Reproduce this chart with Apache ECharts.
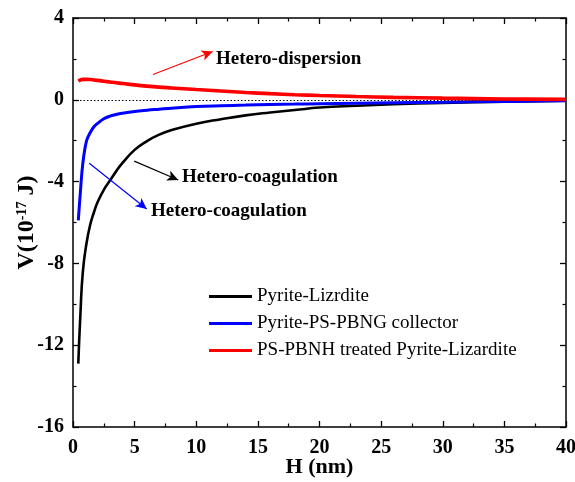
<!DOCTYPE html>
<html>
<head>
<meta charset="utf-8">
<script src="https://cdn.jsdelivr.net/npm/echarts@6/dist/echarts.min.js"></script>
<style>
  html, body { margin: 0; padding: 0; background: #fff; }
  #chart { width: 575px; height: 482px; }
</style>
</head>
<body>
<div id="chart"></div>
<script>
// Separation distance H (nm)
const separation = [0.43, 0.6, 0.8, 1.1, 1.4, 1.7, 2, 2.5, 3, 3.5, 4, 5, 6, 7, 8, 10, 12, 14, 16, 18, 20, 23, 26, 30, 35, 40];

// Interaction energy V (10^-17 J)
const pyriteLizardite = [-12.9, -10.5, -8.4, -7.0, -6.1, -5.5, -5.0, -4.4, -3.95, -3.5, -3.1, -2.45, -2.02, -1.7, -1.48, -1.17, -0.95, -0.76, -0.62, -0.5, -0.38, -0.29, -0.22, -0.15, -0.09, -0.05];
const pyriteCollector = [-5.9, -4.5, -3.1, -2.0, -1.6, -1.32, -1.15, -0.93, -0.8, -0.72, -0.66, -0.57, -0.51, -0.46, -0.41, -0.33, -0.29, -0.26, -0.23, -0.21, -0.19, -0.17, -0.15, -0.12, -0.08, -0.05];
const treatedPair = [0.92, 0.97, 1.0, 1.0, 0.99, 0.97, 0.95, 0.91, 0.87, 0.83, 0.8, 0.73, 0.67, 0.62, 0.58, 0.5, 0.43, 0.36, 0.3, 0.25, 0.21, 0.16, 0.12, 0.08, 0.04, 0.02];

const seriesNames = ['Pyrite-Lizrdite', 'Pyrite-PS-PBNG collector', 'PS-PBNH treated Pyrite-Lizardite'];
const xTicks = { min: 0, max: 40, interval: 5 };
const yTicks = { min: -16, max: 4, interval: 4 };

const serif = '"Liberation Serif", "DejaVu Serif", serif';
const toPairs = vals => separation.map((h, i) => [h, vals[i]]);

const chart = echarts.init(document.getElementById('chart'));

const axisLine = { show: true, onZero: false, lineStyle: { color: '#000', width: 1.5 } };
const tickStyle = { show: true, inside: true, length: 6, lineStyle: { color: '#000', width: 1.3 } };
const minorStyle = { show: true, splitNumber: 2, length: 3.5, lineStyle: { color: '#000', width: 1.2 } };

function arrow(from, to, color) {
  return {
    silent: true,
    symbol: ['none', 'arrow'],
    symbolSize: [8, 11],
    label: { show: false },
    lineStyle: { color: color, width: 1.2, type: 'solid' },
    data: [[{ coord: from }, { coord: to }]]
  };
}

chart.setOption({
  animation: false,
  backgroundColor: '#fff',
  grid: { left: 73, right: 9, top: 18, bottom: 55, outerBoundsMode: 'none', containLabel: false },
  xAxis: [
    {
      type: 'value', min: xTicks.min, max: xTicks.max, interval: xTicks.interval,
      name: 'H (nm)', nameLocation: 'middle', nameGap: 29, nameMoveOverlap: false,
      nameTextStyle: { fontFamily: serif, fontWeight: 'bold', fontSize: 22, color: '#000' },
      axisLine: axisLine, axisTick: tickStyle, minorTick: minorStyle,
      splitLine: { show: false },
      axisLabel: { margin: 11, fontFamily: serif, fontWeight: 'bold', fontSize: 20, color: '#000' }
    },
    {
      type: 'value', position: 'top', min: xTicks.min, max: xTicks.max, interval: xTicks.interval,
      axisLine: axisLine, axisTick: tickStyle, minorTick: minorStyle,
      splitLine: { show: false }, axisLabel: { show: false }
    }
  ],
  yAxis: [
    {
      type: 'value', min: yTicks.min, max: yTicks.max, interval: yTicks.interval,
      name: '{a|V(10}{s|-17}{a| J)}', nameLocation: 'middle', nameGap: 34, nameRotate: 90,
      nameMoveOverlap: false,
      nameTextStyle: {
        rich: {
          a: { fontFamily: serif, fontWeight: 'bold', fontSize: 24, color: '#000' },
          s: { fontFamily: serif, fontWeight: 'bold', fontSize: 14, color: '#000', verticalAlign: 'top', padding: [0, 0, 10, 0] }
        }
      },
      axisLine: axisLine, axisTick: tickStyle, minorTick: minorStyle,
      splitLine: { show: false },
      axisLabel: { margin: 9, fontFamily: serif, fontWeight: 'bold', fontSize: 20, color: '#000' }
    },
    {
      type: 'value', position: 'right', min: yTicks.min, max: yTicks.max, interval: yTicks.interval,
      axisLine: axisLine, axisTick: tickStyle, minorTick: minorStyle,
      splitLine: { show: false }, axisLabel: { show: false }
    }
  ],
  legend: {
    orient: 'vertical', left: 204, top: 282,
    itemWidth: 43, itemHeight: 3, itemGap: 8,
    icon: 'rect',
    textStyle: { fontFamily: serif, fontSize: 19, color: '#000' },
    data: seriesNames
  },
  series: [
    {
      name: seriesNames[0], type: 'line', data: toPairs(pyriteLizardite),
      smooth: 0.5, showSymbol: false, color: '#000',
      lineStyle: { color: '#000', width: 2.6 },
      markLine: {
        silent: true, symbol: 'none', label: { show: false },
        lineStyle: { color: '#000', width: 1, type: [1.5, 2] },
        data: [{ yAxis: 0 }]
      },
      z: 3
    },
    {
      name: seriesNames[1], type: 'line', data: toPairs(pyriteCollector),
      smooth: 0.4, showSymbol: false, color: '#0000ff',
      lineStyle: { color: '#0000ff', width: 3 },
      z: 4
    },
    {
      name: seriesNames[2], type: 'line', data: toPairs(treatedPair),
      smooth: 0.4, showSymbol: false, color: '#ff0000',
      lineStyle: { color: '#ff0000', width: 3.6 },
      z: 5
    },
    // annotation arrows
    { type: 'line', data: [], markLine: arrow([6.49, 1.24], [11.33, 2.36], '#ff0000') },
    { type: 'line', data: [], markLine: arrow([4.97, -3.0], [8.54, -3.92], '#000') },
    { type: 'line', data: [], markLine: arrow([1.32, -3.1], [5.98, -5.34], '#0000ff') }
  ],
  graphic: [
    { type: 'text', left: 216, top: 50, style: { text: 'Hetero-dispersion', font: 'bold 19px ' + serif, fill: '#000' } },
    { type: 'text', left: 182, top: 168, style: { text: 'Hetero-coagulation', font: 'bold 19px ' + serif, fill: '#000' } },
    { type: 'text', left: 151, top: 202, style: { text: 'Hetero-coagulation', font: 'bold 19px ' + serif, fill: '#000' } }
  ]
});
</script>
</body>
</html>
